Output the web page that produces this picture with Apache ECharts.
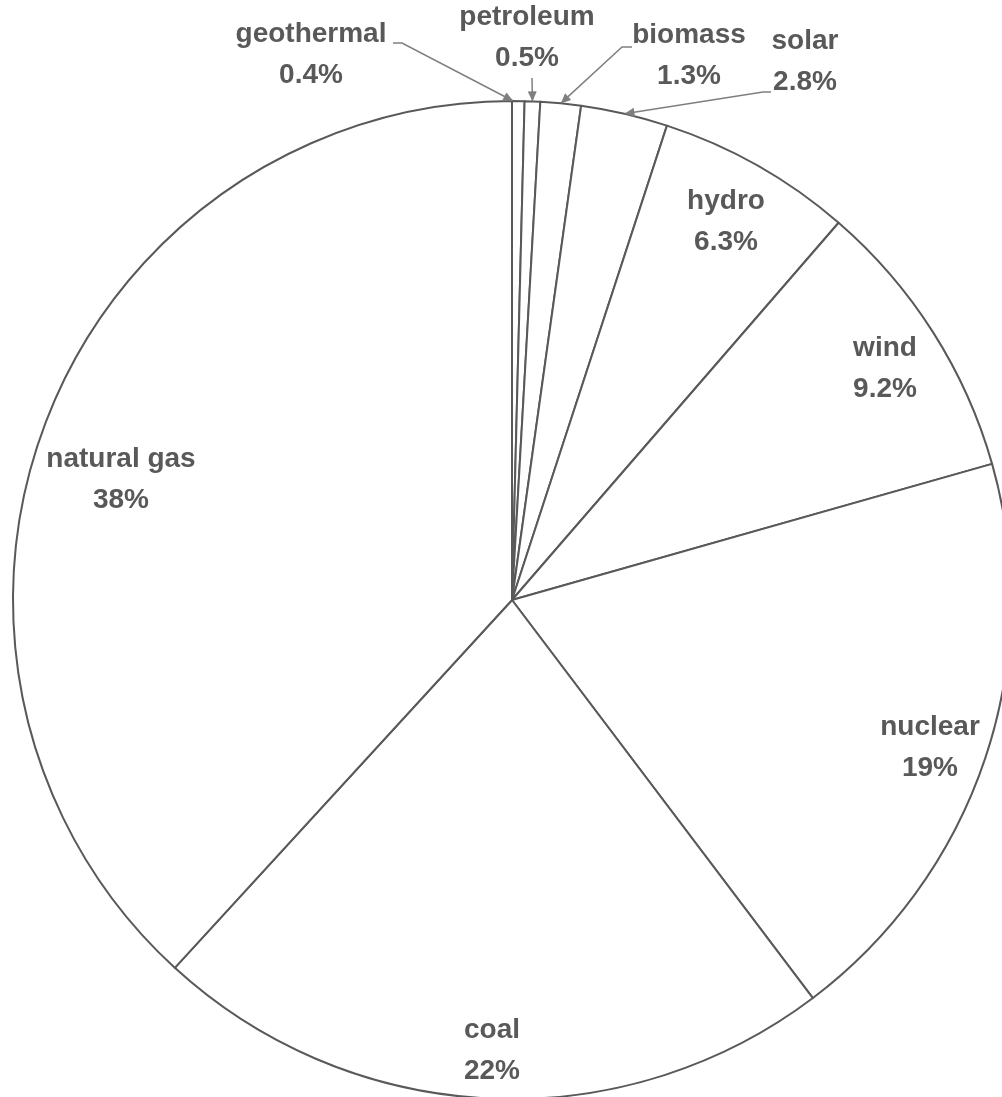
<!DOCTYPE html>
<html>
<head>
<meta charset="utf-8">
<script src="https://cdn.jsdelivr.net/npm/echarts@6/dist/echarts.min.js"></script>
<style>
html,body{margin:0;padding:0;background:#fff;}
#c{width:1002px;height:1097px;}
</style>
</head>
<body>
<div id="c"></div>
<script>
const categories = ['geothermal', 'petroleum', 'biomass', 'solar', 'hydro', 'wind', 'nuclear', 'coal', 'natural gas'];
const shares = [0.4, 0.5, 1.3, 2.8, 6.3, 9.2, 19, 22, 38];
const outsideLabels = ['geothermal', 'petroleum', 'biomass', 'solar'];

// layout (pixels)
const CX = 512, CY = 600, R = 499;
const labelCenters = {
  'geothermal': [311, 55], 'petroleum': [527, 38], 'biomass': [689, 56], 'solar': [805, 62],
  'hydro': [726, 222], 'wind': [885, 369], 'nuclear': [930, 748], 'coal': [492, 1051], 'natural gas': [121, 480]
};
// leader line: [elbow, start-at-label]
const leaderPts = {
  'geothermal': [[402, 43], [393, 43]],
  'petroleum': [[532, 78], [532, 78]],
  'biomass': [[622, 47], [632, 47]],
  'solar': [[763, 92], [771, 92]]
};
// where along each small slice the arrow touches the rim (0..1)
const tipFrac = { 'geothermal': 0.1, 'petroleum': 0.5, 'biomass': 0.5, 'solar': 0.5 };
const TEXT = '#595959';

const total = shares.reduce((a, b) => a + b, 0);
function tipPoint(i) {
  let cum = 0;
  for (let k = 0; k < i; k++) cum += shares[k];
  const f = tipFrac[categories[i]];
  const a = (cum + shares[i] * f) / total * 2 * Math.PI;
  return [CX + R * Math.sin(a), CY - R * Math.cos(a)];
}

const data = categories.map((name, i) => {
  const outside = outsideLabels.includes(name);
  return {
    name: name,
    value: shares[i],
    label: { position: outside ? 'outside' : 'inside' },
    labelLine: { show: outside }
  };
});

const chart = echarts.init(document.getElementById('c'), null, { renderer: 'canvas' });

const arrows = [];
outsideLabels.forEach(name => {
  const i = categories.indexOf(name);
  const tip = tipPoint(i);
  const from = leaderPts[name][0];
  const dx = tip[0] - from[0], dy = tip[1] - from[1];
  const len = Math.sqrt(dx * dx + dy * dy);
  const ux = dx / len, uy = dy / len;
  const L = 10, W = 4.5;
  const bx = tip[0] - ux * L, by = tip[1] - uy * L;
  arrows.push({
    type: 'polygon',
    silent: true,
    z: 100,
    shape: { points: [tip, [bx - uy * W, by + ux * W], [bx + uy * W, by - ux * W]] },
    style: { fill: '#7f7f7f' }
  });
});

chart.setOption({
  animation: false,
  backgroundColor: '#fff',
  graphic: arrows,
  series: [{
    type: 'pie',
    center: [CX, CY],
    radius: R,
    startAngle: 90,
    clockwise: true,
    avoidLabelOverlap: false,
    silent: true,
    emphasis: { disabled: true },
    itemStyle: { color: '#ffffff', borderColor: TEXT, borderWidth: 2 },
    label: {
      show: true,
      formatter: p => p.name + '\n' + p.value + '%',
      fontFamily: 'Liberation Sans',
      fontWeight: 'bold',
      fontSize: 28,
      lineHeight: 41,
      color: TEXT,
      align: 'center'
    },
    labelLine: { show: true, lineStyle: { color: '#7f7f7f', width: 1.5 }, length: 10, length2: 10 },
    labelLayout: function (params) {
      const name = categories[params.dataIndex];
      const c = labelCenters[name];
      const out = { x: c[0], y: c[1], align: 'center', verticalAlign: 'middle' };
      if (leaderPts[name]) {
        const tip = tipPoint(params.dataIndex);
        out.labelLinePoints = [tip, leaderPts[name][0], leaderPts[name][1]];
      }
      return out;
    },
    data: data
  }]
});
</script>
</body>
</html>
